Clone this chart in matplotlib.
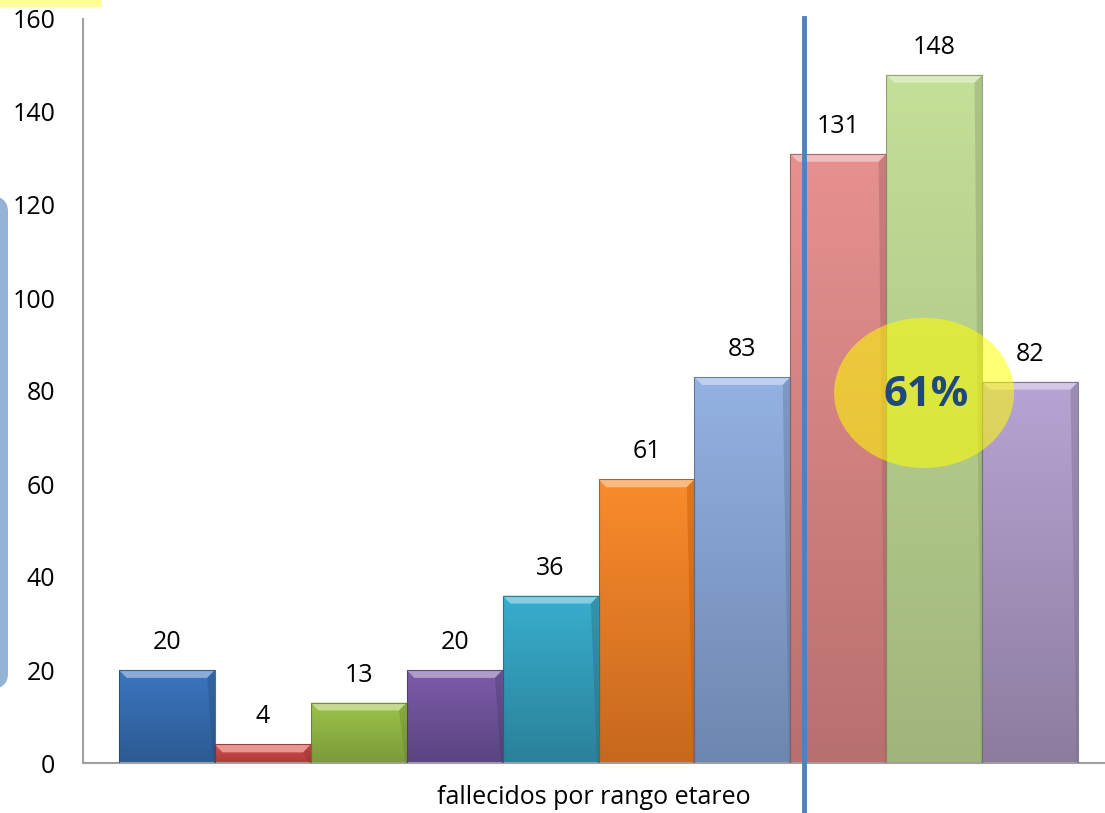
import numpy as np
import matplotlib
matplotlib.use("Agg")
import matplotlib.pyplot as plt
from matplotlib.patches import Ellipse, Polygon, FancyBboxPatch, Rectangle
from matplotlib.colors import to_rgb

# data
category = "fallecidos por rango etareo"
values = [20, 4, 13, 20, 36, 61, 83, 131, 148, 82]
top_colors = ["#3B76C0", "#D9504C", "#9DC348", "#7D5CAA", "#38AECF",
              "#F98B2B", "#93B1E2", "#E69190", "#C4DF98", "#B6A4D3"]
bottom_colors = ["#2D5A91", "#A83C3A", "#7A9A3C", "#5A4480", "#2A8199",
                 "#C7681F", "#6E87AF", "#B8706E", "#A0B57C", "#8C7D9F"]
yticks = [0, 20, 40, 60, 80, 100, 120, 140, 160]
share_label = "61%"

plt.rcParams['font.family'] = ['Open Sans', 'DejaVu Sans']

fig = plt.figure(figsize=(11.05, 8.13), dpi=100)
ax = fig.add_axes([83 / 1105, 1 - 763 / 813, 1 - 83 / 1105, (763 - 19) / 813])

x = np.arange(len(values))
bars = ax.bar(x, values, width=1.0, color="none", edgecolor="none", zorder=2)

ax.set_xlim(-0.875, 9.78)
ax.set_ylim(0, 160)

# gradient + bevel for every bar
for bar, c_top, c_bot in zip(bars, top_colors, bottom_colors):
    x0, w, h = bar.get_x(), bar.get_width(), bar.get_height()
    t = np.linspace(0, 1, 64)[:, None]
    grad = (1 - t) * np.array(to_rgb(c_top)) + t * np.array(to_rgb(c_bot))
    im = ax.imshow(grad[:, None, :].repeat(2, axis=1), extent=(x0, x0 + w, 0, h),
                   aspect="auto", zorder=2, interpolation="bilinear")
    im.set_clip_path(bar)
    bh = min(1.7, h * 0.45)
    bw = 0.08
    light = 0.6 * np.array(to_rgb(c_top)) + 0.4
    ax.add_patch(Polygon([(x0, h), (x0 + w, h), (x0 + w - bw, h - bh), (x0 + bw, h - bh)],
                         closed=True, facecolor=light, edgecolor="none", zorder=3))
    side = 0.8 * np.array(to_rgb(c_bot))
    ax.add_patch(Polygon([(x0 + w, h), (x0 + w, 0), (x0 + w - 0.015, 0), (x0 + w - bw, h - bh)],
                         closed=True, facecolor=side, edgecolor="none", alpha=0.35, zorder=3))
    ax.add_patch(Rectangle((x0, 0), w, h, facecolor="none", edgecolor=side,
                           linewidth=0.8, alpha=0.8, zorder=3))
    ax.text(x0 + w / 2, h + 5.9, str(int(h)), ha="center", va="center",
            fontsize=18, color="black", zorder=5)

# axes styling
for s in ["top", "right"]:
    ax.spines[s].set_visible(False)
ax.spines["left"].set_color("#A0A0A0")
ax.spines["bottom"].set_color("#A0A0A0")
ax.spines["left"].set_linewidth(1.5)
ax.spines["bottom"].set_linewidth(1.5)
ax.set_yticks(yticks)
ax.tick_params(axis="y", length=0, labelsize=18, pad=20)
ax.set_xticks([])
ax.set_xlabel(category, fontsize=18, labelpad=16)

# vertical marker line and highlighted ellipse
ax.plot([6.643, 6.643], [160.3, -11], color="#4F81BD", linewidth=3.5,
        zorder=6, clip_on=False)
ax.add_patch(Ellipse((7.894, 79.6), 1.877, 32.3, facecolor="#FFFF00",
                     alpha=0.55, edgecolor="none", zorder=7))
ax.text(7.91, 79.0, share_label, ha="center", va="center", fontsize=30,
        fontweight="bold", color="#1F497D", zorder=8)

# decorations at the figure edges
fig.patches.append(FancyBboxPatch((-30 / 1105, 1 - 690 / 813), 38 / 1105, 495 / 813,
                                  boxstyle="round,pad=0,rounding_size=0.02",
                                  transform=fig.transFigure, facecolor="#95B3D7",
                                  edgecolor="none", zorder=0))
fig.patches.append(Rectangle((0, 1 - 7 / 813), 102 / 1105, 7 / 813,
                             transform=fig.transFigure, facecolor="#FFFF99",
                             edgecolor="none"))

fig.savefig("out.png", dpi=100)
